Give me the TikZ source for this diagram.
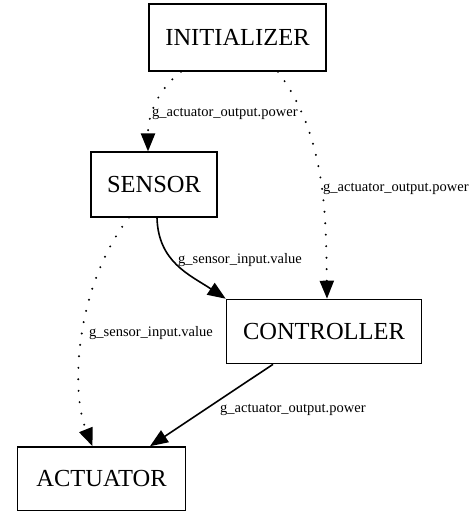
\documentclass[tikz,border=0pt]{standalone}
\usepackage{fontspec}
\setmainfont{Liberation Serif}
\newfontfamily\boxfont{Liberation Serif}
\usetikzlibrary{arrows.meta,calc}
\begin{document}
\begin{tikzpicture}[x=1pt,y=-1pt,
  box/.style={draw, line width=1.6pt, font=\boxfont\fontsize{24.5}{28}\selectfont, inner sep=0pt},
  flow/.style={line width=1.6pt, -{Triangle[length=18pt,width=14pt]}},
  dotflow/.style={flow, line width=2.2pt, line cap=round, dash pattern=on 0pt off 11.5pt},
  lbl/.style={font=\boxfont\fontsize{14.5}{16}\selectfont, inner sep=0pt, anchor=base west}]
\useasboundingbox (0,0) rectangle (470,511);

% processes
\node[box, minimum width=177pt, minimum height=67pt]   (init) at (237.5,37.5) {INITIALIZER};
\node[box, minimum width=125.5pt, minimum height=64.5pt] (sens) at (154,184.5) {SENSOR};
\node[box, minimum width=195pt, minimum height=64pt]   (ctrl) at (324,331.5) {CONTROLLER};
\node[box, minimum width=168pt, minimum height=64pt]   (act)  at (101.5,479) {ACTUATOR};

% data flows
\draw[dotflow] ($(init.south)+(-56.5,0)$) .. controls (162,86) and (148,110) .. ($(sens.north)+(-6,0)$);
\draw[dotflow] ($(init.south)+(40.5,0)$) .. controls (325,135) and (326,210) .. ($(ctrl.north)+(3,0)$);
\draw[flow] ($(sens.south)+(3,0)$) .. controls (158,262) and (190,275) .. (ctrl.north west);
\draw[dotflow] ($(sens.south)+(-25,0)$) .. controls (76,285) and (70,390) .. ($(act.north)+(-9,0)$);
\draw[flow] ($(ctrl.south)+(-51,0)$) -- ($(act.north)+(48.5,0)$);

% flow labels
\node[lbl] (l1) at (152,116)   {g\_actuator\_output.power};
\node[lbl] (l2) at (323,191.5) {g\_actuator\_output.power};
\node[lbl] (l3) at (178,263.5) {g\_sensor\_input.value};
\node[lbl] (l4) at (89,336)    {g\_sensor\_input.value};
\node[lbl] (l5) at (220,412)   {g\_actuator\_output.power};
\end{tikzpicture}
\end{document}
